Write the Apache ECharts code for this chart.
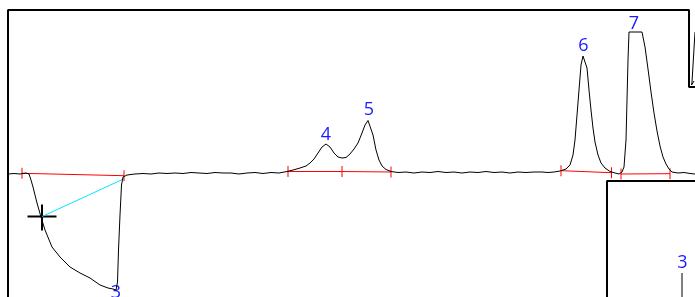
<!DOCTYPE html>
<html>
<head>
<meta charset="utf-8">
<script src="https://cdn.jsdelivr.net/npm/echarts@6/dist/echarts.min.js"></script>
<style>
  html, body { margin: 0; padding: 0; background: #fff; }
  #main { width: 695px; height: 297px; }
</style>
</head>
<body>
<div id="main"></div>
<script>
// detector trace (time units, signal units)
const traceTime = [
  8, 14, 20, 26, 29, 31, 33, 37, 41, 45, 52, 60, 70, 80, 90, 100, 108, 113, 116,
  117.5, 118.5, 120, 121.5, 123, 127, 135,
  143, 151, 159, 167, 175, 183, 191, 199, 207, 215, 223, 231, 239, 247, 255, 263, 271, 279, 287,
  293, 300, 306, 310, 314, 318, 322, 326, 330, 334, 338, 342, 346, 350, 354, 358, 362, 365, 368,
  370, 373, 376, 379, 382, 386, 391,
  398, 406, 414, 422, 430, 438, 446, 454, 462, 470, 478, 486, 494, 502, 510, 518, 526, 534, 542, 548, 554,
  560, 566, 570, 573, 575, 577, 579, 581, 583, 585, 587, 589, 591, 593, 595, 598, 601, 605, 610, 615, 619,
  622, 624, 626, 627, 628, 629, 642, 645, 648, 651, 654, 657, 660, 663, 666, 669, 672, 678, 684, 690, 695
];
const traceSignal = [
  123, 123.5, 123, 124, 123, 117, 110, 94, 80, 67, 50, 40, 30, 24, 19, 12, 9, 8, 7,
  15, 47, 82, 112, 120, 122, 123,
  123.5, 123, 124, 123.5, 124, 123.5, 124.5, 124, 123.5, 124.5, 124, 124, 123, 124, 124.5, 123.5, 124.5, 124, 125.5,
  127, 129, 131, 134, 138, 144, 150, 153, 150, 144, 140, 139, 139.5, 143, 148, 154, 164, 172, 176.5,
  175, 162, 147, 137, 131, 127.5, 125.5,
  124.5, 125, 124, 125, 124.5, 125.5, 124.5, 125, 124, 125, 124.5, 125.5, 124.5, 125, 124, 125, 124.5, 125, 125, 124.5, 125,
  126, 128, 132, 142, 157, 182, 207, 232, 241, 239, 229, 207, 187, 169, 155, 142, 134, 129, 125.5, 124, 123,
  125, 130, 157, 197, 237, 265, 265, 250, 228, 205, 184, 166, 151, 140, 133, 128, 125, 124, 124.5, 123.5, 123
];

// second trace fragment at the right edge
const sideTime = [695, 693.5, 692, 691.5, 692.5, 694];
const sideSignal = [265, 240, 215, 212, 210, 216];

// integration baselines (null separates segments)
const baseTime = [22, 124, null, 288, 342, 391, null, 561, 611.5, null, 621, 670];
const baseSignal = [123.7, 121.3, null, 125.5, 125.5, 125, null, 126.3, 124.3, null, 123, 123.3];

// cursor
const cursorTime = [42, 123.5];
const cursorSignal = [80.5, 118];

// peak labels
const peakNames = ['3', '4', '5', '6', '7', '3'];
const peakTime = [116, 326, 369, 583.5, 634, 682.5];
const peakSignal = [4.5, 162.5, 187.5, 251.5, 273.5, 34];

// window frames
const frameA = [[8, -10], [8, 287], [689, 287], [689, 210], [700, 210]];
const frameB = [[607, -10], [607, 116], [700, 116]];
const markerLine = [[682, 24], [682, -10]];

const pairs = (xs, ys) => xs.map((x, i) => (x === null ? [null, null] : [x, ys[i]]));
const ticks = pairs(baseTime, baseSignal).filter((p) => p[0] !== null);

var myChart = echarts.init(document.getElementById('main'));
var option = {
  animation: false,
  grid: { left: 0, right: 0, top: 0, bottom: 0 },
  xAxis: { type: 'value', min: 0, max: 695, show: false },
  yAxis: { type: 'value', min: 0, max: 297, show: false },
  series: [
    {
      type: 'line', data: frameA, symbol: 'none', silent: true,
      lineStyle: { color: '#000', width: 2 }
    },
    {
      type: 'line', data: frameB, symbol: 'none', silent: true,
      lineStyle: { color: '#000', width: 2 }
    },
    {
      type: 'line', data: markerLine, symbol: 'none',
      lineStyle: { color: '#000', width: 1 }
    },
    {
      type: 'line', data: pairs(baseTime, baseSignal), symbol: 'none', connectNulls: false,
      lineStyle: { color: '#ff0000', width: 1 }
    },
    {
      type: 'scatter', data: ticks, symbol: 'rect', symbolSize: [1, 11],
      itemStyle: { color: '#ff0000', opacity: 1 }
    },
    {
      type: 'line', data: pairs(cursorTime, cursorSignal), symbol: 'none',
      lineStyle: { color: '#00e5ff', width: 1 }
    },
    {
      type: 'line', data: pairs(traceTime, traceSignal), symbol: 'none',
      lineStyle: { color: '#000', width: 1 }
    },
    {
      type: 'line', data: pairs(sideTime, sideSignal), symbol: 'none',
      lineStyle: { color: '#000', width: 1 }
    },
    {
      type: 'scatter', data: [[cursorTime[0], cursorSignal[0]]], symbol: 'rect',
      symbolSize: [29, 2], itemStyle: { color: '#000', opacity: 1 }
    },
    {
      type: 'scatter', data: [[cursorTime[0], cursorSignal[0] - 1]], symbol: 'rect',
      symbolSize: [2, 26], itemStyle: { color: '#000', opacity: 1 }
    },
    {
      type: 'scatter', symbolSize: 0, itemStyle: { opacity: 1 },
      data: peakNames.map((n, i) => ({ name: n, value: [peakTime[i], peakSignal[i]] })),
      label: {
        show: true, position: 'inside', formatter: '{b}', opacity: 1,
        color: '#1a1aff', fontSize: 18, fontFamily: 'Open Sans'
      }
    }
  ]
};
option && myChart.setOption(option);
</script>
</body>
</html>
